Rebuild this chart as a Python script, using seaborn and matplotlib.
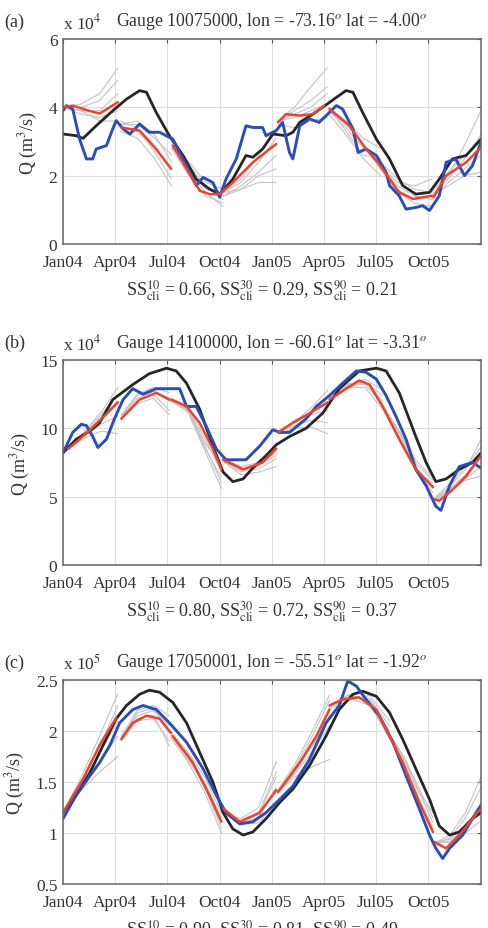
import numpy as np
import pandas as pd
import matplotlib
matplotlib.use("Agg")
import matplotlib.pyplot as plt
import seaborn as sns

# ---------------- data (day 0 = 1 Jan 2004) ----------------
MONTH_TICKS = [0, 91, 182, 274, 366, 456, 547, 639]
MONTH_LABELS = ["Jan04", "Apr04", "Jul04", "Oct04", "Jan05", "Apr05", "Jul05", "Oct05"]

# ---- panel (a) : Gauge 10075000 (x 10^4 m3/s)
A_BLACK_DAY = [0, 23, 35, 58, 87, 111, 134, 146, 163, 186, 210, 233, 256, 274, 297, 320, 332, 349,
               367, 390, 402, 414, 437, 454, 478, 495, 507, 524, 548, 571, 594, 617, 641, 658, 681, 705, 731]
A_BLACK_Q = [3.22, 3.17, 3.09, 3.46, 3.90, 4.24, 4.49, 4.44, 3.85, 3.17, 2.59, 1.90, 1.61, 1.46, 1.90, 2.59, 2.54, 2.78,
             3.22, 3.17, 3.27, 3.56, 3.80, 4.00, 4.29, 4.49, 4.44, 3.85, 3.07, 2.49, 1.71, 1.46, 1.51, 1.90, 2.49, 2.59, 3.07]
A_BLUE_DAY = [0, 6, 17, 29, 41, 52, 58, 76, 87, 93, 105, 117, 134, 151, 169, 192, 216, 233, 245, 262, 274, 285,
              303, 320, 332, 349, 355, 373, 384, 396, 402, 414, 431, 448, 466, 478, 489, 507, 516, 530, 548, 565,
              571, 588, 600, 617, 629, 641, 658, 670, 687, 702, 716, 731]
A_BLUE_Q = [3.90, 4.05, 3.95, 3.07, 2.49, 2.49, 2.78, 2.88, 3.37, 3.61, 3.37, 3.22, 3.51, 3.27, 3.27, 3.07, 2.29, 1.71,
            1.95, 1.80, 1.37, 1.90, 2.49, 3.46, 3.41, 3.41, 3.17, 3.32, 3.56, 2.68, 2.49, 3.46, 3.66, 3.56, 3.85, 4.05,
            3.95, 3.37, 2.68, 2.78, 2.59, 2.10, 1.71, 1.41, 1.02, 1.07, 1.12, 0.98, 1.41, 2.39, 2.49, 2.00, 2.29, 2.98]
A_RED_DAY = [[0, 17, 45, 64, 96], [102, 134, 163, 189], [192, 216, 239, 256, 274], [274, 297, 332, 373],
             [376, 390, 414, 437, 457], [466, 501, 530, 550], [550, 588, 612, 645], [648, 670, 705, 731]]
A_RED_Q = [[4.00, 4.05, 3.90, 3.82, 4.15], [3.41, 3.32, 2.78, 2.20], [2.88, 2.20, 1.56, 1.46, 1.46],
           [1.46, 1.80, 2.39, 2.93], [3.56, 3.80, 3.76, 3.80, 4.05], [3.95, 3.46, 2.78, 2.40],
           [2.40, 1.51, 1.32, 1.41], [1.37, 2.00, 2.39, 2.83]]
A_GRAY_SEG = [(0, 96), (100, 190), (190, 280), (280, 373), (376, 462), (465, 555), (555, 645), (645, 731)]
A_GRAY_Q = [
    [[4.0, 4.1, 4.4, 5.15], [4.0, 4.0, 4.2, 4.8], [4.0, 3.9, 3.9, 4.4], [4.0, 3.8, 3.7, 3.9], [4.0, 3.9, 3.6, 3.6]],
    [[3.5, 3.5, 3.1, 2.6], [3.4, 3.3, 2.8, 2.2], [3.6, 3.4, 2.7, 1.9], [3.3, 3.1, 2.5, 1.7], [3.5, 3.6, 3.2, 2.4]],
    [[2.9, 2.2, 1.6, 1.5], [2.8, 2.0, 1.4, 1.2], [3.0, 2.3, 1.7, 1.3], [2.9, 2.1, 1.5, 1.1], [2.8, 2.4, 1.8, 1.6]],
    [[1.5, 1.8, 2.4, 3.1], [1.4, 1.7, 2.1, 2.6], [1.5, 1.9, 2.6, 3.3], [1.4, 1.6, 2.0, 2.2], [1.5, 1.6, 1.8, 1.8]],
    [[3.6, 4.0, 4.6, 5.15], [3.6, 3.9, 4.2, 4.6], [3.6, 3.7, 3.9, 4.1], [3.5, 3.4, 3.6, 3.7], [3.6, 3.8, 4.0, 4.4]],
    [[3.9, 3.4, 2.8, 2.4], [4.0, 3.6, 3.1, 2.8], [3.8, 3.2, 2.5, 2.0], [3.9, 3.5, 2.9, 2.2], [4.0, 3.3, 2.6, 2.5]],
    [[2.3, 1.7, 1.4, 1.3], [2.2, 1.6, 1.3, 1.4], [2.4, 1.9, 1.6, 1.5], [2.2, 1.5, 1.2, 1.1], [2.3, 1.8, 1.7, 1.9]],
    [[1.4, 2.0, 2.9, 3.9], [1.4, 1.9, 2.5, 3.2], [1.3, 1.8, 2.2, 2.6], [1.4, 1.7, 2.0, 2.1], [1.5, 2.1, 2.6, 3.0]],
]

# ---- panel (b) : Gauge 14100000 (x 10^4 m3/s)
B_BLACK_DAY = [0, 23, 47, 64, 87, 122, 151, 181, 198, 216, 239, 262, 280, 297, 315, 332, 355, 373, 396, 425, 454,
               483, 518, 548, 565, 588, 617, 635, 652, 670, 693, 716, 731]
B_BLACK_Q = [8.2, 9.2, 9.8, 10.4, 12.1, 13.2, 14.0, 14.4, 14.2, 13.3, 11.4, 8.7, 6.8, 6.1, 6.3, 7.1, 8.0, 8.8, 9.4,
             10.0, 11.1, 12.9, 14.2, 14.4, 14.2, 12.6, 9.4, 7.5, 6.1, 6.3, 7.0, 7.5, 8.2]
B_BLUE_DAY = [0, 17, 32, 41, 52, 61, 76, 90, 105, 122, 140, 163, 204, 216, 233, 250, 268, 285, 320, 344, 367, 379,
              396, 425, 443, 466, 489, 513, 530, 548, 565, 582, 600, 617, 635, 652, 661, 676, 693, 716, 731]
B_BLUE_Q = [8.2, 9.7, 10.3, 10.2, 9.4, 8.6, 9.2, 10.7, 12.1, 12.9, 12.5, 12.9, 12.9, 11.6, 11.6, 10.2, 8.5, 7.7, 7.7,
            8.7, 9.9, 9.7, 9.7, 10.7, 11.6, 12.4, 13.3, 14.2, 14.1, 13.6, 12.4, 10.9, 9.2, 7.0, 5.8, 4.3, 4.0, 5.8,
            7.2, 7.5, 7.1]
B_RED_DAY = [[9, 40, 70, 96], [102, 134, 163, 186], [189, 216, 239, 262, 277], [280, 315, 349, 373],
             [376, 402, 431, 463], [466, 495, 518, 536, 559], [559, 588, 617, 647], [650, 658, 681, 705, 731]]
B_RED_Q = [[8.5, 9.6, 10.8, 11.9], [10.7, 12.1, 12.6, 12.1], [12.1, 11.6, 10.4, 8.5, 7.0], [7.7, 7.0, 7.5, 8.5],
           [9.7, 10.4, 11.1, 11.9], [12.1, 12.9, 13.5, 13.2, 11.6], [11.6, 9.2, 7.0, 5.7], [4.8, 4.7, 5.5, 6.5, 8.0]]
B_GRAY_SEG = [(9, 96), (102, 186), (189, 277), (280, 373), (376, 463), (466, 559), (559, 647), (650, 731)]
B_GRAY_Q = [
    [[8.5, 9.8, 11.2, 13.0], [8.5, 9.6, 10.8, 12.0], [8.5, 9.5, 10.3, 10.9], [8.5, 9.3, 9.8, 9.6], [8.5, 9.7, 11.0, 12.5]],
    [[10.9, 12.4, 12.8, 12.0], [10.8, 12.0, 12.5, 11.3], [11.0, 12.5, 13.0, 12.6], [10.7, 11.8, 12.2, 11.0], [10.9, 12.2, 12.7, 12.2]],
    [[12.1, 11.4, 8.8, 6.0], [12.2, 11.7, 9.3, 6.8], [12.0, 11.2, 8.4, 5.6], [12.1, 11.5, 9.0, 7.2], [12.1, 11.3, 8.6, 6.4]],
    [[7.6, 6.8, 7.2, 8.6], [7.7, 7.0, 7.0, 7.8], [7.6, 6.6, 6.8, 7.2], [7.8, 7.2, 7.5, 8.2], [7.6, 6.9, 7.3, 8.0]],
    [[9.7, 10.5, 11.5, 12.8], [9.8, 10.4, 11.2, 11.8], [9.7, 10.2, 10.6, 10.4], [9.6, 10.0, 10.1, 9.6], [9.7, 10.6, 11.0, 11.3]],
    [[12.1, 13.2, 13.4, 12.0], [12.2, 13.0, 13.0, 11.4], [12.0, 12.9, 13.4, 12.4], [12.1, 13.1, 13.6, 12.8], [12.2, 13.3, 13.2, 11.8]],
    [[11.6, 9.6, 7.2, 5.6], [11.5, 9.2, 6.8, 6.0], [11.7, 9.8, 7.6, 6.4], [11.6, 9.4, 7.0, 5.3], [11.6, 9.7, 7.4, 6.2]],
    [[4.8, 5.8, 7.0, 9.2], [4.8, 5.6, 6.6, 8.0], [4.7, 5.4, 6.2, 6.5], [4.9, 6.0, 7.2, 8.6], [4.8, 5.5, 6.3, 7.2]],
]

# ---- panel (c) : Gauge 17050001 (x 10^5 m3/s)
C_BLACK_DAY = [0, 23, 47, 70, 93, 111, 134, 151, 169, 192, 216, 239, 262, 280, 297, 315, 332, 355, 379, 402, 431,
               460, 483, 507, 524, 548, 571, 594, 617, 641, 658, 676, 693, 716, 731]
C_BLACK_Q = [1.20, 1.37, 1.59, 1.86, 2.12, 2.25, 2.36, 2.40, 2.38, 2.28, 2.08, 1.79, 1.50, 1.20, 1.04, 0.98, 1.01,
             1.14, 1.30, 1.43, 1.66, 1.95, 2.21, 2.36, 2.39, 2.34, 2.18, 1.92, 1.63, 1.33, 1.07, 0.98, 1.01, 1.14, 1.20]
C_BLUE_DAY = [0, 23, 47, 64, 82, 99, 122, 140, 163, 186, 216, 245, 268, 285, 309, 332, 355, 379, 402, 431, 460, 483,
              498, 513, 530, 553, 577, 600, 623, 641, 652, 664, 676, 699, 716, 731]
C_BLUE_Q = [1.14, 1.37, 1.56, 1.69, 1.86, 2.08, 2.21, 2.25, 2.21, 2.08, 1.89, 1.63, 1.37, 1.20, 1.09, 1.11, 1.20,
            1.33, 1.46, 1.72, 2.08, 2.25, 2.49, 2.44, 2.31, 2.15, 1.89, 1.56, 1.24, 0.98, 0.85, 0.75, 0.85, 0.98,
            1.14, 1.27]
C_RED_DAY = [[0, 35, 64, 93], [102, 122, 146, 169, 189], [192, 227, 256, 277], [280, 309, 344, 373],
             [376, 414, 443, 466], [466, 489, 518, 548, 571], [571, 594, 623, 647], [650, 670, 693, 731]]
C_RED_Q = [[1.20, 1.53, 1.86, 2.13], [1.92, 2.08, 2.15, 2.12, 1.98], [1.95, 1.69, 1.37, 1.11], [1.24, 1.11, 1.20, 1.42],
           [1.40, 1.69, 1.95, 2.21], [2.25, 2.31, 2.33, 2.21, 1.95], [1.95, 1.69, 1.30, 1.01], [0.91, 0.85, 0.98, 1.24]]
C_GRAY_SEG = [(0, 96), (102, 186), (189, 277), (280, 373), (376, 466), (466, 571), (571, 647), (650, 731)]
C_GRAY_Q = [
    [[1.2, 1.55, 1.95, 2.37], [1.2, 1.5, 1.85, 2.25], [1.2, 1.45, 1.7, 1.95], [1.2, 1.42, 1.6, 1.75], [1.2, 1.48, 1.78, 2.1]],
    [[1.92, 2.15, 2.2, 2.05], [1.95, 2.2, 2.25, 2.15], [1.9, 2.1, 2.12, 1.9], [1.93, 2.18, 2.22, 1.98], [1.92, 2.12, 2.16, 1.85]],
    [[1.95, 1.75, 1.45, 1.05], [1.98, 1.8, 1.55, 1.2], [1.93, 1.7, 1.4, 1.0], [1.96, 1.78, 1.5, 1.15], [1.95, 1.72, 1.48, 1.1]],
    [[1.2, 1.12, 1.2, 1.6], [1.22, 1.1, 1.15, 1.45], [1.2, 1.08, 1.1, 1.3], [1.21, 1.14, 1.25, 1.7], [1.2, 1.1, 1.18, 1.55]],
    [[1.4, 1.65, 1.95, 2.3], [1.4, 1.6, 1.85, 2.15], [1.4, 1.55, 1.65, 1.72], [1.42, 1.68, 2.0, 2.35], [1.4, 1.58, 1.8, 2.05]],
    [[2.25, 2.35, 2.3, 2.0], [2.25, 2.32, 2.25, 1.95], [2.22, 2.3, 2.35, 2.1], [2.25, 2.36, 2.28, 1.92], [2.23, 2.33, 2.32, 2.05]],
    [[1.95, 1.7, 1.35, 1.05], [1.97, 1.75, 1.45, 1.15], [1.93, 1.68, 1.32, 1.0], [1.96, 1.72, 1.4, 1.2], [1.95, 1.74, 1.42, 1.1]],
    [[0.9, 0.95, 1.15, 1.45], [0.9, 0.92, 1.05, 1.3], [0.92, 0.9, 1.0, 1.12], [0.9, 0.98, 1.2, 1.55], [0.91, 0.94, 1.08, 1.25]],
]

PANEL_LETTERS = ["(a)", "(b)", "(c)"]
PANEL_TITLES = ["Gauge 10075000, lon = -73.16$^{o}$ lat = -4.00$^{o}$",
                "Gauge 14100000, lon = -60.61$^{o}$ lat = -3.31$^{o}$",
                "Gauge 17050001, lon = -55.51$^{o}$ lat = -1.92$^{o}$"]
PANEL_SCALE = ["x 10$^{4}$", "x 10$^{4}$", "x 10$^{5}$"]
PANEL_SS = [("0.66", "0.29", "0.21"), ("0.80", "0.72", "0.37"), ("0.90", "0.81", "0.49")]
PANEL_YTICKS = [[0, 2, 4, 6], [0, 5, 10, 15], [0.5, 1, 1.5, 2, 2.5]]
PANEL_YTICKLABELS = [["0", "2", "4", "6"], ["0", "5", "10", "15"], ["0.5", "1", "1.5", "2", "2.5"]]

# ---------------- style ----------------
sns.set_style("white")
plt.rcParams["font.family"] = ["Liberation Serif", "DejaVu Serif"]
plt.rcParams["mathtext.fontset"] = "stix"
TXT = "#333333"

W, H = 488, 929
fig = plt.figure(figsize=(W / 100, H / 100), dpi=100)

AX_BOX = [(63, 40, 481, 245), (63, 361, 481, 566), (63, 681, 481, 885)]

panels = [
    (A_BLACK_DAY, A_BLACK_Q, A_BLUE_DAY, A_BLUE_Q, A_RED_DAY, A_RED_Q, A_GRAY_SEG, A_GRAY_Q),
    (B_BLACK_DAY, B_BLACK_Q, B_BLUE_DAY, B_BLUE_Q, B_RED_DAY, B_RED_Q, B_GRAY_SEG, B_GRAY_Q),
    (C_BLACK_DAY, C_BLACK_Q, C_BLUE_DAY, C_BLUE_Q, C_RED_DAY, C_RED_Q, C_GRAY_SEG, C_GRAY_Q),
]


def fx(x):
    return x / W


def fy(y):
    return 1 - y / H


for i, (bd, bq, ud, uq, rd, rq, gseg, gq) in enumerate(panels):
    l, t, r, b = AX_BOX[i]
    ax = fig.add_axes([fx(l), fy(b), (r - l) / W, (b - t) / H])

    # gray ensemble members
    rows = []
    for s, ((d0, d1), members) in enumerate(zip(gseg, gq)):
        for m, vals in enumerate(members):
            days = np.linspace(d0, d1, len(vals))
            for d, v in zip(days, vals):
                rows.append({"day": d, "q": v, "unit": f"{s}-{m}"})
    gdf = pd.DataFrame(rows)
    sns.lineplot(data=gdf, x="day", y="q", units="unit", estimator=None, color="#c4c4c4",
                 lw=0.8, ax=ax, legend=False, sort=False)

    # climatology (black)
    sns.lineplot(x=bd, y=bq, color="#262626", lw=2.0, ax=ax, legend=False, sort=False)
    # observations (blue)
    sns.lineplot(x=ud, y=uq, color="#2a4db8", lw=2.1, ax=ax, legend=False, sort=False)
    # ensemble mean forecast (red)
    rrows = []
    for s, (dd, qq) in enumerate(zip(rd, rq)):
        for d, v in zip(dd, qq):
            rrows.append({"day": d, "q": v, "seg": s})
    rdf = pd.DataFrame(rrows)
    sns.lineplot(data=rdf, x="day", y="q", units="seg", estimator=None, color="#ec4330",
                 lw=1.8, ax=ax, legend=False, sort=False)

    yt = PANEL_YTICKS[i]
    ax.set_xlim(0, 731)
    ax.set_ylim(yt[0], yt[-1])
    ax.set_xticks(MONTH_TICKS)
    ax.set_xticklabels(MONTH_LABELS)
    ax.set_yticks(yt)
    ax.set_yticklabels(PANEL_YTICKLABELS[i])
    ax.grid(True, color="#dedede", lw=0.8)
    ax.tick_params(direction="in", length=3, width=0.8, color="#555555", labelsize=12.5,
                   labelcolor=TXT, top=True, right=True)
    ax.tick_params(axis="x", pad=7)
    ax.tick_params(axis="y", pad=4)
    for sp in ax.spines.values():
        sp.set_color("#666666")
        sp.set_linewidth(1.1)
    ax.set_xlabel("")
    ax.set_ylabel("Q (m$^{3}$/s)", fontsize=13, color=TXT, labelpad=6)

    # texts
    fig.text(fx(4), fy(t - 18), PANEL_LETTERS[i], fontsize=13, color=TXT, va="center", ha="left")
    fig.text(fx(63), fy(t - 17), PANEL_SCALE[i], fontsize=12.5, color=TXT, va="center", ha="left")
    fig.text(fx(272), fy(t - 18), PANEL_TITLES[i], fontsize=12.8, color=TXT, va="center", ha="center")
    s10, s30, s90 = PANEL_SS[i]
    ss = (f"SS$^{{10}}_{{\\rm cli}}$ = {s10}, SS$^{{30}}_{{\\rm cli}}$ = {s30}, "
          f"SS$^{{90}}_{{\\rm cli}}$ = {s90}")
    fig.text(fx(262), fy(b + 46), ss, fontsize=13, color=TXT, va="center", ha="center")

fig.savefig("out.png", dpi=100, facecolor="white")
